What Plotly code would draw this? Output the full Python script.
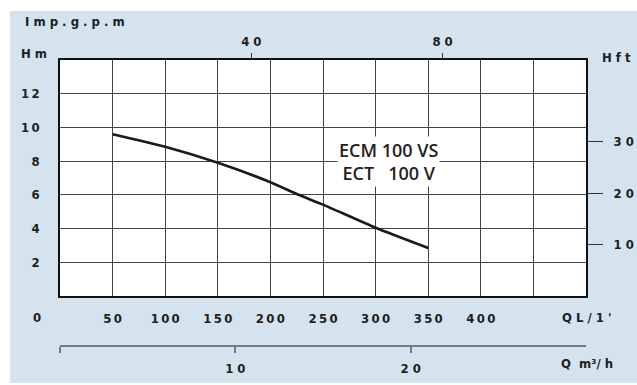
import plotly.graph_objects as go

# Pump performance curve ECM 100 VS / ECT 100 V
flow_lpm = [50, 100, 150, 200, 225, 250, 300, 350]
head_m = [9.6, 8.85, 7.9, 6.75, 6.05, 5.42, 4.05, 2.85]

lpm_ticks = [0, 50, 100, 150, 200, 250, 300, 350, 400, 450, 500]
lpm_labels = ["", "50", "100", "150", "200", "250", "300", "350", "400", "", ""]
hm_ticks = [0, 2, 4, 6, 8, 10, 12, 14]
hm_labels = ["", "2", "4", "6", "8", "10", "12", ""]
gpm_ticks = [40, 80]
hft_ticks = [10, 20, 30]
m3h_ticks = [0, 10, 20]
m3h_labels = ["", "10", "20"]

LPM_PER_GPM = 4.546
M_PER_FT = 0.3048
M3H_PER_LPM = 0.06

W, H = 637, 385
L, R, T, B = 60, 586, 60, 346      # plot area in pixels
GRID_BOTTOM = 296                  # bottom of the gridded region

def px(x):
    return (x - L) / (R - L)

def py(y):
    return (B - y) / (B - T)

def spaced(s, sep="\u2009"):
    return sep.join(s)

FONT = "DejaVu Sans Condensed, Liberation Sans Narrow, Liberation Sans, Arial"
TXT = "#1e1e1e"
tick_font = dict(family=FONT, size=13, color=TXT, weight="bold")

fig = go.Figure()
fig.add_trace(go.Scatter(
    x=flow_lpm, y=head_m, mode="lines",
    line=dict(color="#1a1a1a", width=2.6, shape="spline", smoothing=0.6),
    hoverinfo="skip", showlegend=False,
))
# invisible traces to activate the secondary axes
fig.add_trace(go.Scatter(x=[None], y=[None], xaxis="x2", yaxis="y2", showlegend=False))
fig.add_trace(go.Scatter(x=[None], y=[None], xaxis="x3", yaxis="y", showlegend=False))

ydom0 = py(GRID_BOTTOM)

fig.update_layout(
    width=W, height=H,
    margin=dict(l=L, r=W - R, t=T, b=H - B, pad=0, autoexpand=False),
    paper_bgcolor="white",
    plot_bgcolor="rgba(0,0,0,0)",
    showlegend=False,
    xaxis=dict(
        range=[0, 500], tickvals=lpm_ticks, ticktext=[spaced(t) for t in lpm_labels],
        showgrid=True, gridcolor="#444444", gridwidth=1.4,
        showline=True, linecolor="#111111", linewidth=1.7, mirror=True,
        ticks="", ticklabelstandoff=10, tickfont=tick_font,
        zeroline=False, anchor="y", automargin=False,
    ),
    yaxis=dict(
        range=[0, 14], domain=[ydom0, 1], tickvals=hm_ticks,
        ticktext=[spaced(t) for t in hm_labels],
        showgrid=True, gridcolor="#444444", gridwidth=1.4,
        showline=True, linecolor="#111111", linewidth=1.7, mirror=True,
        ticks="", ticklabelstandoff=16, tickfont=tick_font,
        zeroline=False, automargin=False,
    ),
    xaxis2=dict(
        range=[0, 500 / LPM_PER_GPM], overlaying="x", side="top", anchor="y",
        tickvals=gpm_ticks, ticktext=[spaced(str(t), " ") for t in gpm_ticks],
        ticks="outside", ticklen=6, tickwidth=1.2, tickcolor="#333333",
        ticklabelstandoff=2, tickfont=tick_font,
        showgrid=False, showline=False, zeroline=False, automargin=False,
    ),
    yaxis2=dict(
        range=[0, 14 / M_PER_FT], overlaying="y", side="right", anchor="x",
        domain=[ydom0, 1],
        tickvals=hft_ticks, ticktext=[spaced(str(t), " ") for t in hft_ticks],
        ticks="outside", ticklen=16, tickwidth=1.2, tickcolor="#333333",
        ticklabelstandoff=8, tickfont=tick_font,
        showgrid=False, showline=False, zeroline=False, automargin=False,
    ),
    xaxis3=dict(
        range=[0, 500 * M3H_PER_LPM], anchor="free", position=0, overlaying="x",
        side="bottom",
        tickvals=m3h_ticks, ticktext=[spaced(t, " ") for t in m3h_labels],
        ticks="outside", ticklen=6, tickwidth=1.5, tickcolor="#777777",
        showline=True, linecolor="#7a7a7a", linewidth=2,
        ticklabelstandoff=4, tickfont=tick_font,
        showgrid=False, zeroline=False, automargin=False,
    ),
    shapes=[
        dict(type="rect", xref="paper", yref="paper", layer="below",
             x0=px(10), x1=px(W + 5), y0=py(383), y1=py(11),
             fillcolor="#d4e3ed", line=dict(width=0)),
        dict(type="rect", xref="paper", yref="paper", layer="below",
             x0=0, x1=1, y0=ydom0, y1=1,
             fillcolor="white", line=dict(width=0)),
    ],
)

annots = [
    ("I m p . g . p . m", 23, 22, "left"),
    ("H m", 19, 53, "left"),
    ("H f t", 600, 57, "left"),
    ("0", 43, 317, "right"),
    ("Q L / 1 '", 560, 317, "left"),
    ("Q  m\u00b3/ h", 559, 363, "left"),
]
for text, x, y, align in annots:
    fig.add_annotation(
        text=text, xref="paper", yref="paper", x=px(x), y=py(y),
        xanchor=align, yanchor="middle", showarrow=False,
        font=tick_font,
    )

fig.add_annotation(
    text="ECM 100 VS<br>ECT\u00a0\u00a0\u00a0100 V",
    x=312, y=7.95, xref="x", yref="y", showarrow=False,
    font=dict(family="Open Sans, Noto Sans, Arial", size=18, color="#222222", weight=600),
    bgcolor="white", borderpad=1, align="center",
)

fig.write_html("out.html")
